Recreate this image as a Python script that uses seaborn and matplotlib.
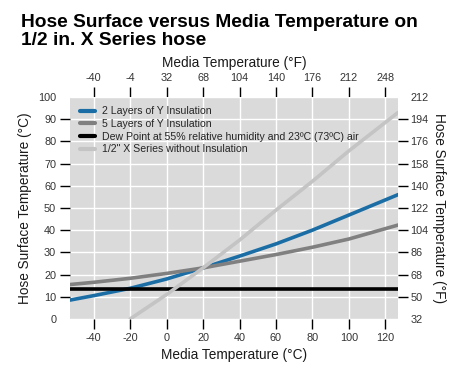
import numpy as np
import pandas as pd
import matplotlib
matplotlib.use("Agg")
import matplotlib.pyplot as plt
import seaborn as sns

# values (°C)
media_c = [-53, -40, -20, 0, 20, 40, 60, 80, 100, 127]
two_layers = [8.5, 10.5, 13.8, 18.0, 23.0, 28.3, 33.8, 40.0, 46.8, 56.0]
five_layers = [15.5, 16.5, 18.3, 20.5, 23.0, 26.0, 29.0, 32.3, 36.0, 42.3]
dew_point = [13.5] * len(media_c)
no_insul_x = [-20, 0, 20, 40, 60, 80, 100, 127]
no_insul = [0.0, 11.0, 23.0, 35.5, 49.0, 62.0, 75.7, 93.0]

labels = [
    "2 Layers of Y Insulation",
    "5 Layers of Y Insulation",
    "Dew Point at 55% relative humidity and 23ºC (73ºC) air",
    '1/2" X Series without Insulation',
]
colors = ["#1b6ea5", "#808080", "#000000", "#c4c4c4"]

x_ticks_c = [-40, -20, 0, 20, 40, 60, 80, 100, 120]
x_ticks_f = [-40, -4, 32, 68, 104, 140, 176, 212, 248]
y_ticks_c = list(range(0, 101, 10))
y_ticks_f = [32, 50, 68, 86, 104, 122, 140, 158, 176, 194, 212]

df = pd.concat([
    pd.DataFrame({"x": media_c, "y": two_layers, "series": labels[0]}),
    pd.DataFrame({"x": media_c, "y": five_layers, "series": labels[1]}),
    pd.DataFrame({"x": media_c, "y": dew_point, "series": labels[2]}),
    pd.DataFrame({"x": no_insul_x, "y": no_insul, "series": labels[3]}),
])

sns.set_style("darkgrid", {"axes.facecolor": "#dadada", "grid.color": "white"})
plt.rcParams["font.family"] = ["Liberation Sans", "DejaVu Sans"]
plt.rcParams["axes.unicode_minus"] = False

fig = plt.figure(figsize=(4.7, 3.7), dpi=100)
ax = fig.add_axes([0.149, 0.138, 0.698, 0.600])

sns.lineplot(data=df, x="x", y="y", hue="series", palette=dict(zip(labels, colors)),
             linewidth=2.6, ax=ax, sort=True, estimator=None)

ax.set_xlim(-53, 127)
ax.set_ylim(0, 100)
ax.set_xticks(x_ticks_c)
ax.set_yticks(y_ticks_c)
ax.grid(True, color="white", linewidth=1.0)
for s in ax.spines.values():
    s.set_visible(False)

ax.tick_params(axis="both", labelsize=7.8, length=7, width=1, color="black",
               labelcolor="#333333", pad=3)
ax.tick_params(axis="x", direction="out", bottom=True)
ax.tick_params(axis="y", direction="out", left=True)
for t in (ax.yaxis.get_major_ticks()[0], ax.yaxis.get_major_ticks()[-1]):
    t.tick1line.set_visible(False)

ax.set_xlabel("Media Temperature (°C)", fontsize=9.8, labelpad=4, color="#1a1a1a")
ax.set_ylabel("Hose Surface Temperature (°C)", fontsize=9.8, labelpad=4, color="#1a1a1a")

c2f = lambda c: c * 9 / 5 + 32
f2c = lambda f: (f - 32) * 5 / 9

top = ax.secondary_xaxis("top", functions=(c2f, f2c))
top.set_xticks(x_ticks_f)
top.tick_params(labelsize=7.8, length=7, width=1, color="black",
                labelcolor="#333333", pad=3)
top.set_xlabel("Media Temperature (°F)", fontsize=9.8, labelpad=4, color="#1a1a1a")

right = ax.secondary_yaxis("right", functions=(c2f, f2c))
right.set_yticks(y_ticks_f)
right.tick_params(labelsize=7.8, length=7, width=1, color="black",
                  labelcolor="#333333", pad=2)
right.set_ylabel("Hose Surface Temperature (°F)", fontsize=9.8, rotation=-90,
                 labelpad=12, color="#1a1a1a")
for sec in (top, right):
    for s in sec.spines.values():
        s.set_visible(False)
for t in (right.yaxis.get_major_ticks()[0], right.yaxis.get_major_ticks()[-1]):
    t.tick2line.set_visible(False)

leg = ax.legend(loc="upper left", frameon=False, fontsize=7.6, handlelength=1.5,
                handletextpad=0.6, labelspacing=0.25, borderaxespad=0.5)
for line in leg.get_lines():
    line.set_linewidth(3)

fig.text(0.045, 0.962, "Hose Surface versus Media Temperature on\n1/2 in. X Series hose",
         fontsize=13.8, fontweight="bold", va="top", ha="left", linespacing=1.1,
         color="black")

fig.savefig("out.png", dpi=100, facecolor="white")
